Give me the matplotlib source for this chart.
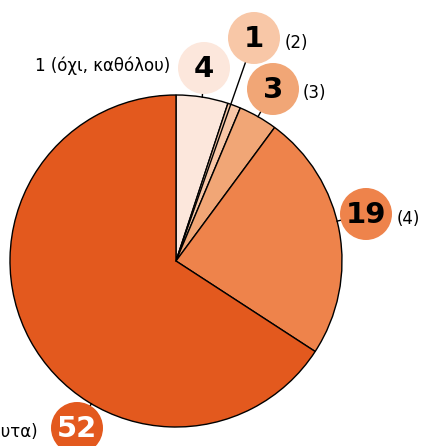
import matplotlib
matplotlib.use("Agg")
import matplotlib.pyplot as plt
from matplotlib.patches import Circle
import numpy as np

values = [4, 1, 3, 19, 52]
labels = ["1 (όχι, καθόλου)", "(2)", "(3)", "(4)", "5 (ναι, απόλυτα)"]
colors = ["#fce7dc", "#f8c7a7", "#f1a676", "#ee834b", "#e3591e"]
num_colors = ["black", "black", "black", "black", "white"]

W, H = 422, 446
fig = plt.figure(figsize=(W / 100, H / 100), dpi=100)
ax = fig.add_axes([0, 0, 1, 1])

cx, cy, R = 176, H - 261, 166
wedges, _ = ax.pie(values, colors=colors, startangle=90, counterclock=False,
                   center=(cx, cy), radius=R, frame=True,
                   wedgeprops=dict(edgecolor="black", linewidth=1.0))
ax.set_xlim(0, W)
ax.set_ylim(0, H)
ax.set_aspect("equal")
ax.axis("off")

# bubble positions (image coords)
bubbles = [(204, 68), (254, 38), (273, 89), (366, 214), (77, 428)]
br = 26
label_pos = [(170, 66, "right"), (285, 43, "left"), (303, 93, "left"),
             (397, 219, "left"), (38, 432, "right")]

for i, (v, (bx, by)) in enumerate(zip(values, bubbles)):
    w = wedges[i]
    mid = np.deg2rad((w.theta1 + w.theta2) / 2)
    by_ = H - by
    px, py = cx + R * np.cos(mid), cy + R * np.sin(mid)
    if i in (3, 4):
        ang = np.arctan2(by_ - cy, bx - cx)
        px, py = cx + R * np.cos(ang), cy + R * np.sin(ang)
    dx, dy = bx - px, by_ - py
    d = np.hypot(dx, dy)
    ex, ey = bx - dx / d * br, by_ - dy / d * br
    if i == 1:
        # leader drawn from the pie centre through the thin slice
        dx, dy = bx - cx, by_ - cy
        d = np.hypot(dx, dy)
        px, py = cx, cy
        ex, ey = bx - dx / d * br, by_ - dy / d * br
    ax.plot([px, ex], [py, ey], color="black", lw=1.0, zorder=3)
    ax.add_patch(Circle((bx, by_), br, facecolor=colors[i], edgecolor="none", zorder=4))
    ax.text(bx, by_ - 1, str(v), ha="center", va="center", fontsize=21,
            fontweight="bold", color=num_colors[i], zorder=5)
    lx, ly, ha = label_pos[i]
    ax.text(lx, H - ly, labels[i], ha=ha, va="center", fontsize=12,
            color="black", zorder=5)

fig.savefig("out.png", dpi=100)
